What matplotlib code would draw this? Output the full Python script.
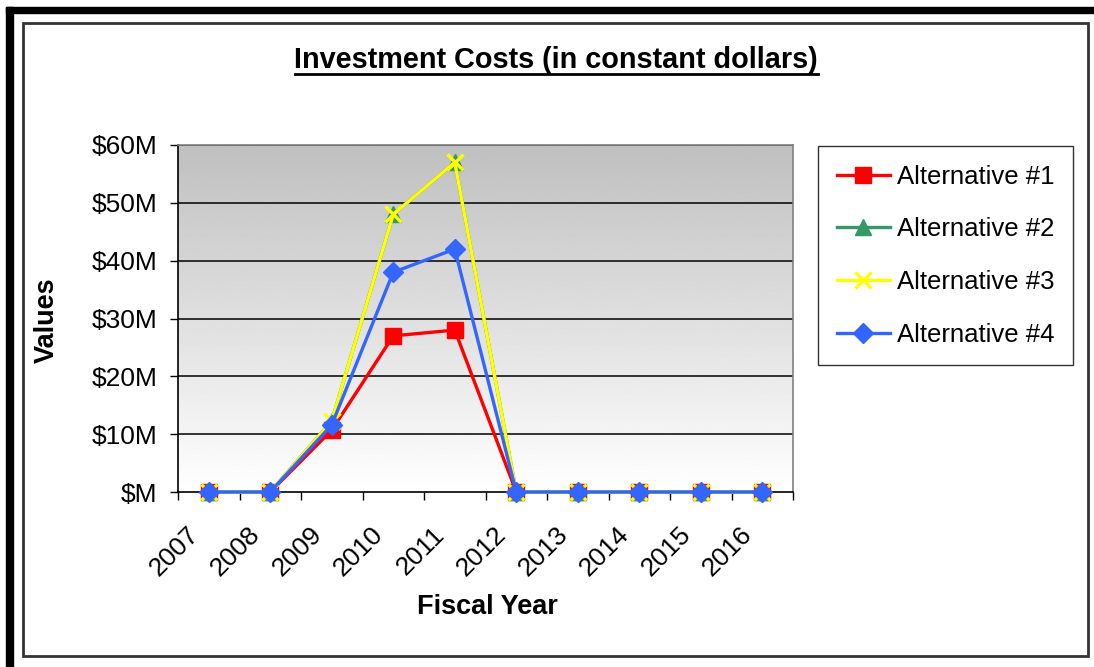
import numpy as np
import matplotlib.pyplot as plt
import matplotlib.transforms as mtransforms
from matplotlib.patches import Rectangle
from matplotlib.lines import Line2D

plt.rcParams['font.family'] = ['Liberation Sans', 'DejaVu Sans']

years = ['2007', '2008', '2009', '2010', '2011', '2012', '2013', '2014', '2015', '2016']
alt1 = [0, 0, 10.7, 27, 28, 0, 0, 0, 0, 0]
alt2 = [0, 0, 12.3, 48, 57, 0, 0, 0, 0, 0]
alt3 = [0, 0, 12.3, 48, 57, 0, 0, 0, 0, 0]
alt4 = [0, 0, 11.6, 38, 42, 0, 0, 0, 0, 0]
yticks = [0, 10, 20, 30, 40, 50, 60]
ylabels = ['$M', '$10M', '$20M', '$30M', '$40M', '$50M', '$60M']

W, H = 1094, 667
fig = plt.figure(figsize=(W / 100, H / 100), dpi=100)

# outer frame: thick black bars on top/left, thin box inside
fig.patches.append(Rectangle((6 / W, 1 - 12.7 / H), 1, 5.7 / H, transform=fig.transFigure,
                             color='black', zorder=-2))
fig.patches.append(Rectangle((6 / W, 0), 6.7 / W, 1 - 7 / H, transform=fig.transFigure,
                             color='black', zorder=-2))
fig.patches.append(Rectangle((22.5 / W, 1 - 656 / H), (1088 - 22.5) / W, (656 - 23) / H,
                             transform=fig.transFigure, facecolor='white', edgecolor='#333333',
                             linewidth=2, zorder=-1))

ax = fig.add_axes([178 / W, 1 - 492 / H, (793 - 178) / W, (492 - 145) / H])
ax.set_zorder(2)
x = np.arange(len(years))

# gray-to-white gradient behind the plot
grad = np.linspace(0.75, 1.0, 256).reshape(-1, 1)
ax.imshow(grad, cmap='gray', vmin=0, vmax=1, aspect='auto',
          extent=(-0.5, len(years) - 0.5, 0, 60), origin='upper', zorder=0)
ax.set_xlim(-0.5, len(years) - 0.5)
ax.set_ylim(0, 60)

for v in yticks[1:]:
    ax.axhline(v, color='black', linewidth=1.1, zorder=1)

ax.plot(x, alt1, color='#ff0000', marker='s', markersize=11, linewidth=2.4, label='Alternative #1',
        zorder=3, clip_on=False)
ax.plot(x, alt2, color='#339966', marker='^', markersize=11, linewidth=2.4, label='Alternative #2',
        zorder=3, clip_on=False)
ax.plot(x, alt3, color='#ffff00', marker='x', markersize=12, markeredgewidth=2.4, linewidth=2.4,
        label='Alternative #3', zorder=3, clip_on=False)
ax.plot(x, alt4, color='#3366ff', marker='D', markersize=10, linewidth=2.4, label='Alternative #4',
        zorder=3, clip_on=False)

ax.set_yticks(yticks)
ax.set_yticklabels(ylabels, fontsize=19)
ax.set_xticks(x)
ax.set_xticklabels(years, fontsize=19, rotation=45, ha='right', va='center',
                   rotation_mode='anchor')
ax.set_xticks(np.arange(-0.5, len(years)), minor=True)
ax.tick_params(axis='x', which='major', length=0, pad=28)
ax.tick_params(axis='x', which='minor', length=6, width=1, direction='out')
ax.tick_params(axis='y', length=6, width=1, direction='out', pad=9)

# nudge the rotated year labels left so they sit under their points
shift = mtransforms.ScaledTranslation(-14 / 100, 0, fig.dpi_scale_trans)
for lbl in ax.get_xticklabels():
    lbl.set_transform(lbl.get_transform() + shift)

ax.spines['left'].set_color('black')
ax.spines['bottom'].set_color('black')
ax.spines['top'].set_color('#808080')
ax.spines['right'].set_color('#808080')
for s in ax.spines.values():
    s.set_linewidth(1.2)

ax.set_xlabel('Fiscal Year', fontsize=19.5, fontweight='bold')
ax.xaxis.set_label_coords((487 - 178) / 615, (492 - 594) / 347)
ax.set_ylabel('Values', fontsize=19.5, fontweight='bold')
ax.yaxis.set_label_coords((60 - 178) / 615, (492 - 320) / 347)

fig.text(556 / W, 1 - 60 / H, 'Investment Costs (in constant dollars)', fontsize=20.8,
         fontweight='bold', ha='center', va='center')
fig.add_artist(Line2D([295 / W, 818 / W], [1 - 74 / H, 1 - 74 / H], color='black', linewidth=2))

leg = fig.legend(loc='upper left', bbox_to_anchor=(818 / W, 1 - 146 / H), fontsize=18.5,
                 frameon=True, fancybox=False, edgecolor='black', handlelength=2.1,
                 labelspacing=1.12, borderpad=0.72, handletextpad=0.25, borderaxespad=0)
leg.get_frame().set_linewidth(1)

fig.savefig('out.png', dpi=100)
